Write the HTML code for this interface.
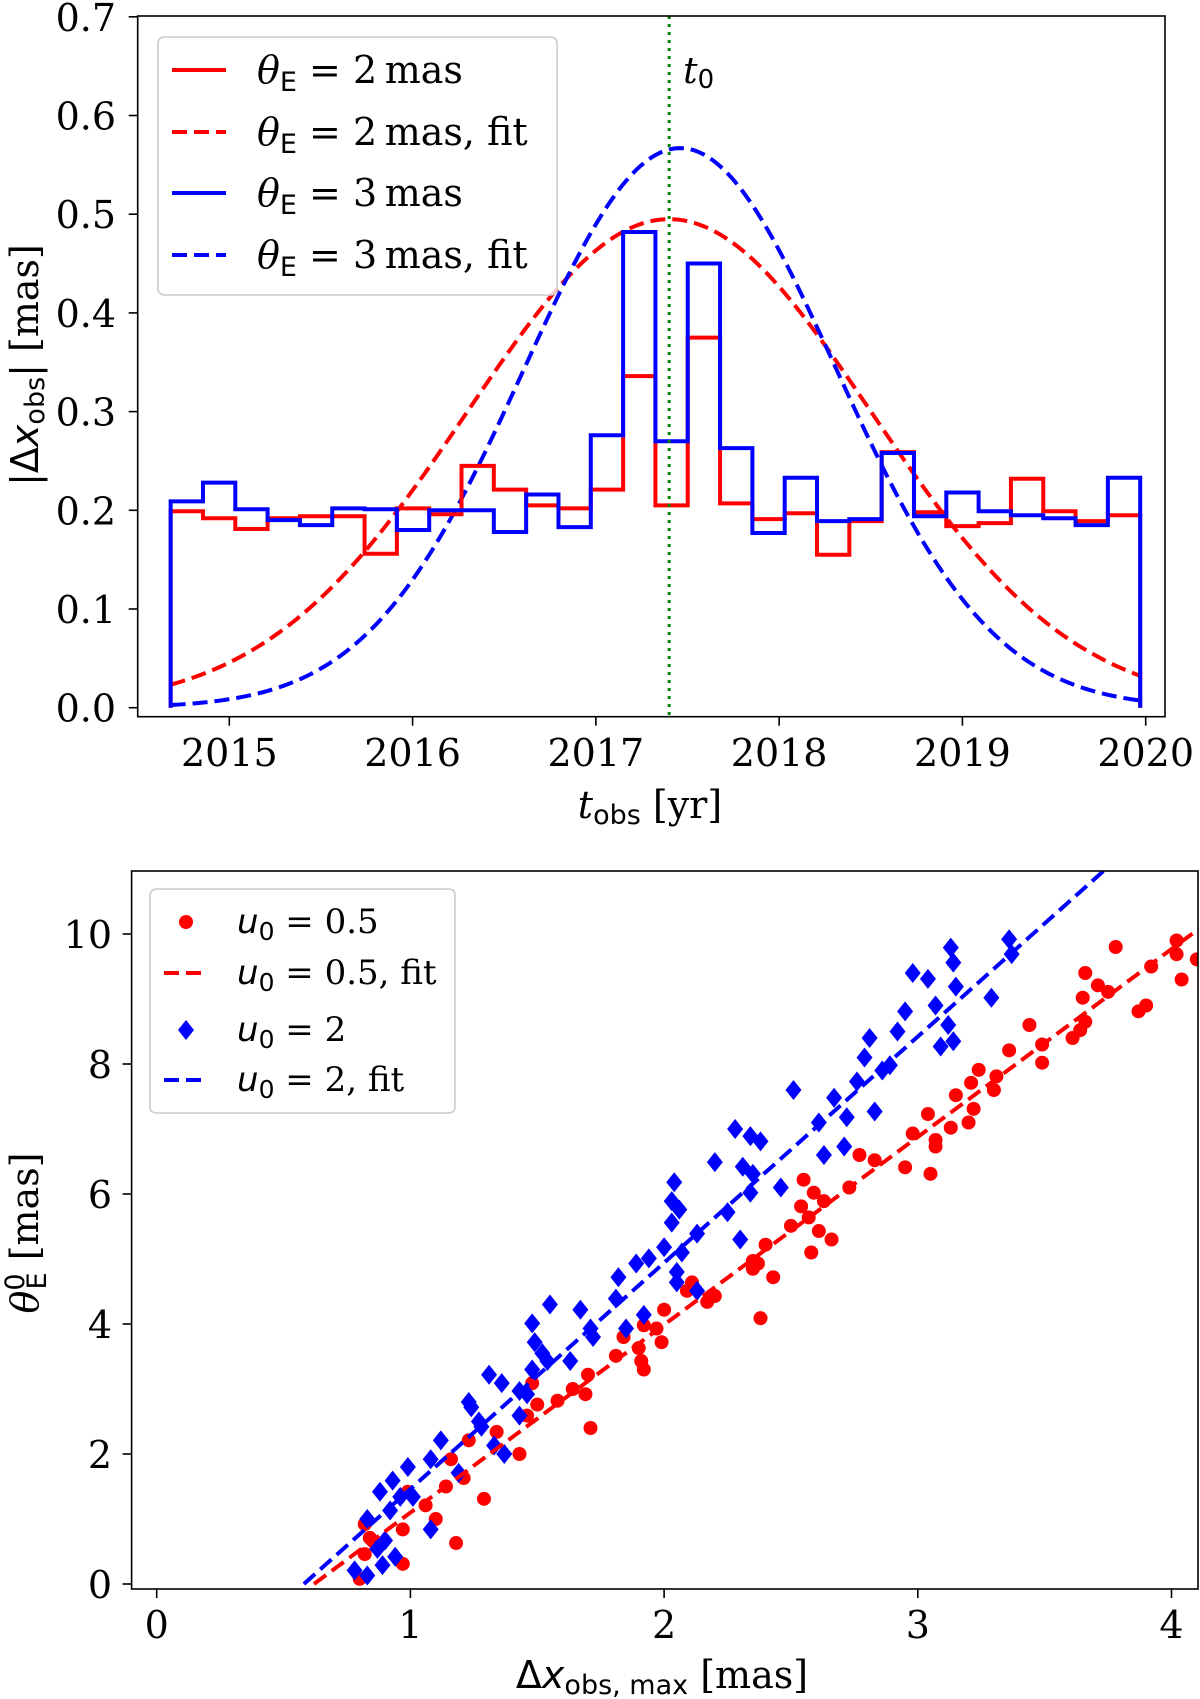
<!DOCTYPE html>
<html><head><meta charset="utf-8">
<style>
html,body{margin:0;padding:0;background:#fff;}
svg{display:block;}
text{font-family:"DejaVu Serif","Liberation Serif",serif;fill:#000;}
.it{font-style:italic;}
.sans{font-family:"DejaVu Sans","Liberation Sans",sans-serif;}
</style></head>
<body>
<svg id="chart" width="1200" height="1699" viewBox="0 0 1200 1699" xmlns="http://www.w3.org/2000/svg">
  <g id="topPanel"></g>
  <g id="botPanel"></g>
</svg>
<script>
// ---------- TOP PANEL DATA ----------
const binStart = 2014.68;
const binEnd = 2019.97;
const redHist = [0.199,0.192,0.181,0.192,0.194,0.194,0.156,0.202,0.196,0.245,0.221,0.205,0.202,0.221,0.336,0.205,0.375,0.207,0.191,0.197,0.155,0.189,0.259,0.198,0.184,0.187,0.232,0.199,0.189,0.195];
const blueHist = [0.209,0.228,0.201,0.190,0.185,0.202,0.201,0.180,0.200,0.200,0.178,0.216,0.183,0.276,0.482,0.270,0.450,0.263,0.177,0.233,0.189,0.191,0.258,0.194,0.218,0.199,0.195,0.192,0.185,0.233];
const redFitParams = [0.495, 2017.40, 1.10];
const blueFitParams = [0.567, 2017.46, 0.85];
const t0Value = 2017.40;
const topXTicks = [2015,2016,2017,2018,2019,2020];
const topYTicks = [0.0,0.1,0.2,0.3,0.4,0.5,0.6,0.7];

// ---------- BOTTOM PANEL DATA ----------
const redPts = [[0.8,0.08],[0.82,0.92],[0.82,0.46],[0.84,0.71],[0.86,0.63],[0.97,0.84],[0.97,0.31],[0.99,1.42],[1.06,1.21],[1.1,1.0],[1.14,1.5],[1.16,1.92],[1.18,0.63],[1.21,1.63],[1.23,2.21],[1.29,1.31],[1.34,2.34],[1.43,2.0],[1.46,2.59],[1.48,3.09],[1.5,2.76],[1.58,2.82],[1.64,3.0],[1.69,2.92],[1.7,3.22],[1.71,2.4],[1.81,3.51],[1.84,3.8],[1.9,3.63],[1.91,3.43],[1.92,3.3],[1.92,3.98],[1.97,3.93],[1.99,3.72],[2.0,4.22],[2.09,4.51],[2.11,4.64],[2.17,4.34],[2.2,4.43],[2.35,4.85],[2.35,4.97],[2.37,4.93],[2.38,4.09],[2.4,5.22],[2.43,4.72],[2.5,5.51],[2.54,5.81],[2.55,6.22],[2.57,5.64],[2.58,5.1],[2.59,6.02],[2.61,5.43],[2.63,5.89],[2.66,5.3],[2.73,6.1],[2.77,6.6],[2.83,6.52],[2.95,6.41],[2.98,6.93],[3.04,7.23],[3.05,6.31],[3.07,6.73],[3.07,6.83],[3.13,7.02],[3.15,7.52],[3.2,7.1],[3.21,7.71],[3.22,7.31],[3.24,7.91],[3.3,7.6],[3.31,7.81],[3.36,8.21],[3.44,8.6],[3.49,8.3],[3.49,8.02],[3.61,8.4],[3.64,8.52],[3.65,9.02],[3.66,9.4],[3.66,8.65],[3.71,9.21],[3.75,9.11],[3.78,9.8],[3.87,8.81],[3.9,8.9],[3.92,9.5],[4.02,9.9],[4.02,9.69],[4.04,9.3],[4.1,9.61]];
const bluePts = [[0.78,0.21],[0.83,0.13],[0.83,1.0],[0.87,0.54],[0.89,0.29],[0.88,1.42],[0.9,0.67],[0.92,1.13],[0.93,1.59],[0.94,0.42],[0.96,1.34],[0.99,1.8],[1.01,1.34],[1.08,0.84],[1.08,1.92],[1.12,2.21],[1.19,1.71],[1.23,2.8],[1.24,2.72],[1.27,2.5],[1.28,2.42],[1.31,3.22],[1.36,3.09],[1.33,2.13],[1.37,2.0],[1.43,2.97],[1.43,2.59],[1.46,2.92],[1.48,3.3],[1.48,4.01],[1.49,3.72],[1.52,3.55],[1.54,3.43],[1.55,4.3],[1.63,3.43],[1.67,4.22],[1.71,3.93],[1.72,3.8],[1.81,4.39],[1.82,4.72],[1.85,3.93],[1.89,4.93],[1.94,5.01],[1.92,4.14],[2.0,5.18],[2.03,5.56],[2.04,6.18],[2.03,5.89],[2.06,5.76],[2.05,4.8],[2.05,4.64],[2.07,5.1],[2.13,5.39],[2.13,4.51],[2.2,6.49],[2.25,5.72],[2.28,7.0],[2.3,5.3],[2.31,6.42],[2.34,6.89],[2.34,6.02],[2.35,6.31],[2.38,6.81],[2.46,6.1],[2.51,7.6],[2.61,7.1],[2.63,6.6],[2.67,7.48],[2.71,6.73],[2.72,7.18],[2.76,7.73],[2.79,8.1],[2.81,8.4],[2.83,7.27],[2.86,7.9],[2.89,7.98],[2.92,8.5],[2.95,8.81],[2.98,9.4],[3.04,9.31],[3.07,8.9],[3.09,8.27],[3.12,8.6],[3.13,9.79],[3.14,8.35],[3.14,9.56],[3.15,9.19],[3.29,9.02],[3.36,9.92],[3.37,9.69]];
const redFitLine = [0.62, 2.89];
const blueFitLine = [0.58, 3.48];
const botXTicks = [0,1,2,3,4];
const botYTicks = [0,2,4,6,8,10];

const NS = "http://www.w3.org/2000/svg";
const LW = 4, DASH = '15,7';
function mk(tag, attrs, parent){
  const el = document.createElementNS(NS, tag);
  for (const k in attrs) el.setAttribute(k, attrs[k]);
  parent.appendChild(el);
  return el;
}
function lin(d0,d1,r0,r1){ return v => r0 + (v-d0)/(d1-d0)*(r1-r0); }

// ================= TOP =================
const topG = document.getElementById('topPanel');
const TL=137.7, TR=1165, TT=16, TB=716.7;
const tx = lin(2015,2020,229.3,1145.7);
const ty = lin(0,0.7,707.7,16.8);

const clipT = mk('clipPath',{id:'clipT'},topG);
mk('rect',{x:TL,y:TT,width:TR-TL,height:TB-TT},clipT);
const plotT = mk('g',{'clip-path':'url(#clipT)'},topG);



function fitPath(p){
  let d='';
  for(let i=0;i<=200;i++){
    const t = binStart + (binEnd-binStart)*i/200;
    const v = p[0]*Math.exp(-0.5*Math.pow((t-p[1])/p[2],2));
    d += (i?'L':'M')+tx(t).toFixed(2)+','+ty(v).toFixed(2);
  }
  return d;
}
function histPath(vals){
  const w = (binEnd-binStart)/vals.length;
  let d = 'M'+tx(binStart)+','+ty(0);
  vals.forEach((v,i)=>{
    d += 'L'+tx(binStart+i*w).toFixed(2)+','+ty(v).toFixed(2);
    d += 'L'+tx(binStart+(i+1)*w).toFixed(2)+','+ty(v).toFixed(2);
  });
  d += 'L'+tx(binEnd)+','+ty(0);
  return d;
}
let e;
e = mk('path',{d:fitPath(redFitParams),fill:'none',stroke:'#ff0000','stroke-width':LW,'stroke-dasharray':DASH},plotT);


e = mk('path',{d:fitPath(blueFitParams),fill:'none',stroke:'#0000ff','stroke-width':LW,'stroke-dasharray':DASH},plotT);


e = mk('path',{d:histPath(redHist),fill:'none',stroke:'#ff0000','stroke-width':LW},plotT);


e = mk('path',{d:histPath(blueHist),fill:'none',stroke:'#0000ff','stroke-width':LW},plotT);


e = mk('line',{x1:tx(t0Value),x2:tx(t0Value),y1:TT,y2:TB,stroke:'#008000','stroke-width':3,'stroke-dasharray':'3,5'},plotT);


e = mk('text',{x:tx(t0Value)+14,y:83,'font-size':36,fill:'#008000',class:'it'},topG);
e.innerHTML = 't<tspan font-size="26" dy="5" font-style="normal" class="sans">0</tspan>';



e = mk('rect',{x:TL,y:TT,width:TR-TL,height:TB-TT,fill:'none',stroke:'#000','stroke-width':1.6},topG);



topXTicks.forEach(v=>{
  mk('line',{x1:tx(v),x2:tx(v),y1:TB,y2:TB+9,stroke:'#000','stroke-width':1.6},topG);
  const t = mk('text',{x:tx(v),y:766,'font-size':38,'text-anchor':'middle'},topG);
  t.textContent = v;
  
  
});
topYTicks.forEach(v=>{
  mk('line',{x1:TL-9,x2:TL,y1:ty(v),y2:ty(v),stroke:'#000','stroke-width':1.6},topG);
  const t = mk('text',{x:116,y:ty(v)+14,'font-size':38,'text-anchor':'end'},topG);
  t.textContent = v.toFixed(1);
  
  
});
e = mk('text',{x:650,y:818,'font-size':38,'text-anchor':'middle'},topG);
e.innerHTML = '<tspan class="it">t</tspan><tspan class="sans" font-size="27" dy="6">obs</tspan><tspan dy="-6"> [yr]</tspan>';


e = mk('text',{x:0,y:0,'font-size':38,'text-anchor':'middle',transform:'translate(38,365) rotate(-90)'},topG);
e.innerHTML = '<tspan class="sans">|Δ</tspan><tspan class="sans it">x</tspan><tspan class="sans" font-size="27" dy="6">obs</tspan><tspan class="sans" dy="-6">|</tspan> [mas]';



const legT = mk('g',{},topG);


mk('rect',{x:158,y:37,width:399,height:258,rx:6,fill:'#fff','fill-opacity':0.8,stroke:'#cccccc','stroke-width':1.6},legT);
const legTItems = [['#ff0000',false,'2\u2009mas'],['#ff0000',true,'2\u2009mas, fit'],['#0000ff',false,'3\u2009mas'],['#0000ff',true,'3\u2009mas, fit']];
const legTY = [70,132,193,255];
legTItems.forEach((it,i)=>{
  const y = legTY[i];
  const l = mk('line',{x1:172,x2:226,y1:y,y2:y,stroke:it[0],'stroke-width':LW},legT);
  if(it[1]) l.setAttribute('stroke-dasharray',DASH);
  const t = mk('text',{x:257,y:y+13,'font-size':38},legT);
  t.innerHTML = '<tspan class="it">θ</tspan><tspan class="sans" font-size="27" dy="8">E</tspan><tspan dy="-8"> = '+it[2]+'</tspan>';
  
  
});

// ================= BOTTOM =================
const botG = document.getElementById('botPanel');
const BL=131.6, BR=1198, BT=871, BB=1589;
const bx = lin(0,4,156.7,1171.5);
const by = lin(0,10,1584,934);
const clipB = mk('clipPath',{id:'clipB'},botG);
mk('rect',{x:BL,y:BT,width:BR-BL,height:BB-BT},clipB);
const plotB = mk('g',{'clip-path':'url(#clipB)'},botG);



redPts.forEach(p=>{
  const c = mk('circle',{cx:bx(p[0]),cy:by(p[1]),r:7,fill:'#ff0000'},plotB);
  
  
});
bluePts.forEach(p=>{
  const X=bx(p[0]), Y=by(p[1]);
  const c = mk('polygon',{points:`${X},${Y-10} ${X+8},${Y} ${X},${Y+10} ${X-8},${Y}`,fill:'#0000ff'},plotB);
  
  
});
function fitLine(p,color,name){
  const x0 = p[0], x1 = 4.2;
  const l = mk('line',{x1:bx(x0),y1:by(0),x2:bx(x1),y2:by((x1-x0)*p[1]),stroke:color,'stroke-width':LW,'stroke-dasharray':DASH},plotB);
  
  
}
fitLine(redFitLine,'#ff0000','red-fit-line');
fitLine(blueFitLine,'#0000ff','blue-fit-line');

e = mk('rect',{x:BL,y:BT,width:BR-BL,height:BB-BT,fill:'none',stroke:'#000','stroke-width':1.6},botG);


botXTicks.forEach(v=>{
  mk('line',{x1:bx(v),x2:bx(v),y1:BB,y2:BB+9,stroke:'#000','stroke-width':1.6},botG);
  const t = mk('text',{x:bx(v),y:1638,'font-size':38,'text-anchor':'middle'},botG);
  t.textContent = v;
  
  
});
botYTicks.forEach(v=>{
  mk('line',{x1:BL-9,x2:BL,y1:by(v),y2:by(v),stroke:'#000','stroke-width':1.6},botG);
  const t = mk('text',{x:112,y:by(v)+14,'font-size':38,'text-anchor':'end'},botG);
  t.textContent = v;
  
  
});
e = mk('text',{x:662,y:1688,'font-size':38,'text-anchor':'middle'},botG);
e.innerHTML = '<tspan class="sans">Δ</tspan><tspan class="sans it">x</tspan><tspan class="sans" font-size="27" dy="6">obs, max</tspan><tspan dy="-6"> [mas]</tspan>';


e = mk('text',{x:0,y:0,'font-size':38,'text-anchor':'middle',transform:'translate(38,1233) rotate(-90)'},botG);
e.innerHTML = '<tspan class="it">θ</tspan><tspan class="sans" font-size="27" dy="-14">0</tspan><tspan class="sans" font-size="27" dx="-16" dy="22">E</tspan><tspan dy="-8"> [mas]</tspan>';



const legB = mk('g',{},botG);


mk('rect',{x:150,y:889,width:305,height:224,rx:6,fill:'#fff','fill-opacity':0.8,stroke:'#cccccc','stroke-width':1.6},legB);
const legBY = [922,973,1030,1080];
const legBText = ['0.5','0.5, fit','2','2, fit'];
legBY.forEach((y,i)=>{
  if(i===0) mk('circle',{cx:186,cy:y,r:7,fill:'#ff0000'},legB);
  if(i===2) mk('polygon',{points:`186,${y-10} 194,${y} 186,${y+10} 178,${y}`,fill:'#0000ff'},legB);
  if(i===1||i===3) mk('line',{x1:164,x2:208,y1:y,y2:y,stroke:i===1?'#ff0000':'#0000ff','stroke-width':LW,'stroke-dasharray':DASH},legB);
  const t = mk('text',{x:237,y:y+11,'font-size':34},legB);
  t.innerHTML = '<tspan class="sans it">u</tspan><tspan class="sans" font-size="25" dy="7">0</tspan><tspan dy="-7"> = '+legBText[i]+'</tspan>';
  
  
});
</script>
</body></html>
